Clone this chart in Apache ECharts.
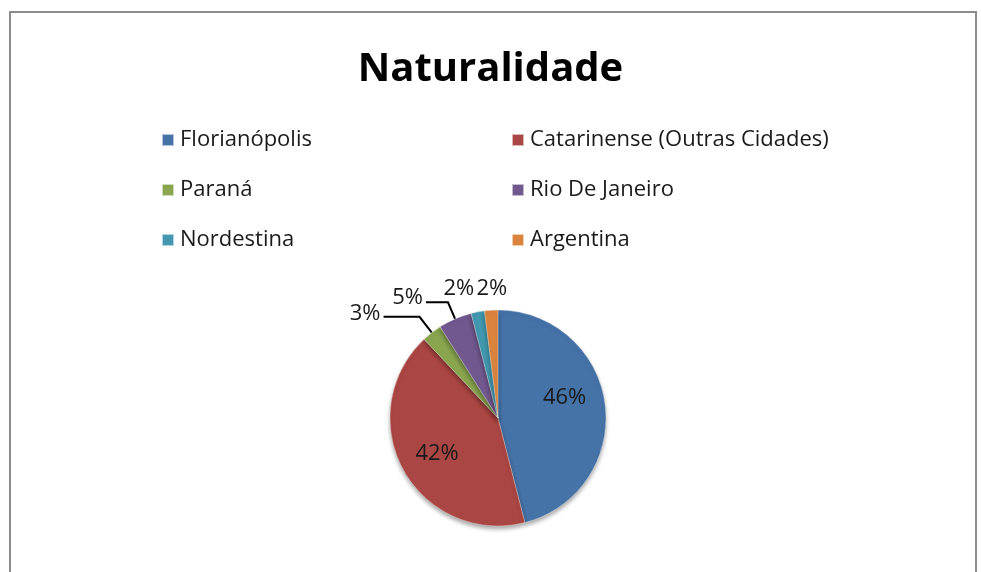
<!DOCTYPE html>
<html>
<head>
<meta charset="utf-8">
<script src="https://cdn.jsdelivr.net/npm/echarts@6/dist/echarts.min.js"></script>
<style>
  html, body { margin: 0; padding: 0; background: #fff; }
  #chart { width: 981px; height: 572px; }
</style>
</head>
<body>
<div id="chart"></div>
<script>
// dados (percentuais)
const categories = ['Florianópolis', 'Catarinense (Outras Cidades)', 'Paraná', 'Rio De Janeiro', 'Nordestina', 'Argentina'];
const values = [46, 42, 3, 5, 2, 2];
const colors = ['#4572a7', '#aa4643', '#89a54e', '#71588f', '#4198af', '#db843d'];
const leftColumn = ['Florianópolis', 'Paraná', 'Nordestina'];
const rightColumn = ['Catarinense (Outras Cidades)', 'Rio De Janeiro', 'Argentina'];
// comprimento das linhas guia das fatias pequenas [length, length2]
const guideLines = [null, null, [20, 36], [18, 22], [24, 0], [22, 0]];
// pequenos ajustes dos rótulos (estilo Excel)
const labelShift = [[10, -13], [-11, 8], [0, -3], [0, -5], [4, 0], [5, 0]];

const chart = echarts.init(document.getElementById('chart'));
const font = '"Open Sans", "Noto Sans", sans-serif';

const pieData = categories.map((name, i) => {
  const g = guideLines[i];
  return {
    name: name,
    value: values[i],
    label: g ? { position: 'outside' } : { position: 'inside' },
    labelLine: g ? { show: g[1] > 0, length: g[0], length2: g[1] } : { show: false }
  };
});

const legendBase = {
  orient: 'vertical',
  top: 124,
  itemGap: 28,
  itemWidth: 12,
  itemHeight: 12,
  icon: 'rect',
  selectedMode: false,
  textStyle: { fontFamily: font, fontSize: 22, color: '#1a1a1a', padding: [0, 0, 0, 1] }
};

chart.setOption({
  color: colors,
  animation: false,
  title: {
    text: 'Naturalidade',
    left: 'center',
    top: 45,
    textStyle: { fontFamily: font, fontSize: 40, fontWeight: 'bold', color: '#000' }
  },
  legend: [
    Object.assign({}, legendBase, { left: 156, data: leftColumn }),
    Object.assign({}, legendBase, { left: 506, data: rightColumn })
  ],
  graphic: [{
    type: 'rect',
    shape: { x: 10, y: 12, width: 966, height: 600 },
    style: { fill: 'none', stroke: '#8c8c8c', lineWidth: 2 },
    silent: true
  }],
  series: [{
    type: 'pie',
    center: [498, 418],
    radius: 108,
    startAngle: 90,
    clockwise: true,
    avoidLabelOverlap: false,
    itemStyle: {
      borderColor: 'rgba(255,255,255,0.6)',
      borderWidth: 0.5,
      shadowBlur: 4,
      shadowOffsetY: 3,
      shadowColor: 'rgba(0,0,0,0.35)'
    },
    label: {
      formatter: '{c}%',
      fontFamily: font,
      fontSize: 22,
      color: '#1a1a1a',
      distanceToLabelLine: 3
    },
    labelLine: {
      lineStyle: { color: '#000', width: 2 },
      smooth: false
    },
    labelLayout: function (p) {
      const s = labelShift[p.dataIndex];
      const out = { dx: s[0], dy: s[1] };
      // rótulo da última fatia centralizado sobre ela
      if (p.dataIndex === 5) out.align = 'center';
      return out;
    },
    emphasis: { disabled: true },
    data: pieData
  }]
});
</script>
</body>
</html>
